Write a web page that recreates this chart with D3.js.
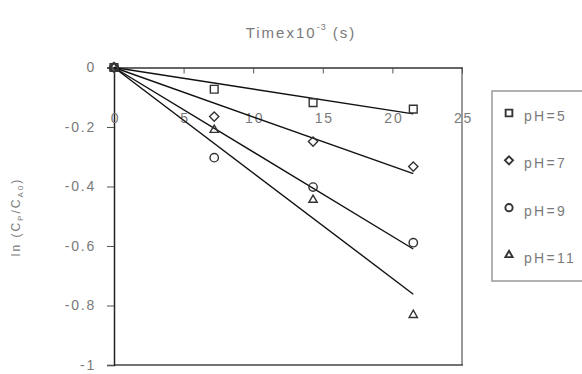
<!DOCTYPE html>
<html><head><meta charset="utf-8">
<script src="https://cdn.jsdelivr.net/npm/d3@7"></script>
<style>body{margin:0;background:#fff}svg{display:block}</style>
</head><body>
<svg id="c" width="582" height="374"></svg>
<script>
const times = [0, 7.2, 14.3, 21.5];
const seriesNames = ["pH=5", "pH=7", "pH=9", "pH=11"];
const pH5 = [0, -0.073, -0.118, -0.140];
const pH7 = [0, -0.165, -0.249, -0.333];
const pH9 = [0, -0.303, -0.402, -0.589];
const pH11 = [0, -0.21, -0.445, -0.832];
const fitX = [0, 21.5];
const fitEnd = [-0.156, -0.357, -0.61, -0.762];
const xTicks = [0, 5, 10, 15, 20, 25];
const yTicks = [0, -0.2, -0.4, -0.6, -0.8, -1];
const yTickLabels = ["0", "-0.2", "-0.4", "-0.6", "-0.8", "-1"];
const symbols = ["square", "diamond", "circle", "triangle"];

const svg = d3.select("#c");
const x = d3.scaleLinear().domain([0, 25]).range([114, 462]);
const y = d3.scaleLinear().domain([0, -1]).range([67.5, 365]);
const txt = "#7a7a7a";
const font = "Liberation Sans, Arial, sans-serif";

// frame
svg.append("line").attr("x1", x(25)).attr("x2", x(25)).attr("y1", y(0)).attr("y2", y(-1)).attr("stroke", "#999").attr("stroke-width", 2);
svg.append("line").attr("x1", x(0)).attr("x2", x(25)+1).attr("y1", y(-1)).attr("y2", y(-1)).attr("stroke", "#444").attr("stroke-width", 1.5);

// y axis
const ya = svg.append("g").attr("transform", `translate(${x(0)},0)`)
  .call(d3.axisLeft(y).tickValues(yTicks).tickSize(7).tickPadding(11).tickFormat((d, i) => yTickLabels[i]));
ya.select(".domain").attr("stroke", "#222").attr("stroke-width", 1.5);
ya.selectAll(".tick line").attr("stroke", "#555");
ya.selectAll("text").attr("fill", txt).attr("font-family", font).attr("font-size", 14).attr("letter-spacing", 1.8);

// x axis at top, ticks pointing down, labels far below
const xa = svg.append("g").attr("transform", `translate(0,${y(0)})`)
  .call(d3.axisBottom(x).tickValues(xTicks).tickSize(6).tickSizeOuter(0).tickPadding(40).tickFormat(d3.format("d")));
xa.select(".domain").attr("stroke", "#333").attr("stroke-width", 1.5);
xa.selectAll(".tick line").attr("stroke", "#555");
xa.selectAll("text").attr("fill", txt).attr("font-family", font).attr("font-size", 14).attr("letter-spacing", 1.8).attr("dx", 1);

// title
const t = svg.append("text").attr("x", 301).attr("y", 38).attr("text-anchor", "middle")
  .attr("fill", txt).attr("font-family", font).attr("font-size", 15).attr("letter-spacing", 2);
t.append("tspan").text("Timex10");
t.append("tspan").attr("dy", -8).attr("font-size", 9).attr("letter-spacing", 1).text("-3");
t.append("tspan").attr("dy", 8).text(" (s)");

// y label
const yl = svg.append("text").attr("transform", "translate(20,217) rotate(-90)").attr("text-anchor", "middle")
  .attr("fill", txt).attr("font-family", font).attr("font-size", 12).attr("letter-spacing", 2);
yl.append("tspan").text("ln (C");
yl.append("tspan").attr("dy", 3).attr("font-size", 8).text("P");
yl.append("tspan").attr("dy", -3).text("/C");
yl.append("tspan").attr("dy", 3).attr("font-size", 8).text("A0");
yl.append("tspan").attr("dy", -3).text(")");

// fit lines
const line = d3.line().x(d => x(d[0])).y(d => y(d[1]));
fitEnd.forEach(e => {
  svg.append("path").attr("d", line([[fitX[0], 0], [fitX[1], e]]))
    .attr("fill", "none").attr("stroke", "#111").attr("stroke-width", 1.4);
});

// markers
const symMap = {square: d3.symbolSquare, diamond: d3.symbolDiamond2 || d3.symbolDiamond, circle: d3.symbolCircle, triangle: d3.symbolTriangle2 || d3.symbolTriangle};
const sizes = {square: 60, diamond: 55, circle: 55, triangle: 50};
const allSeries = [pH5, pH7, pH9, pH11];
allSeries.forEach((vals, i) => {
  const s = d3.symbol().type(symMap[symbols[i]]).size(sizes[symbols[i]]);
  svg.append("g").selectAll("path").data(vals).join("path")
    .attr("transform", (d, j) => `translate(${x(times[j])},${y(d)})`)
    .attr("d", s).attr("fill", "none").attr("stroke", "#333").attr("stroke-width", 1.4);
});

// legend
svg.append("rect").attr("x", 492).attr("y", 91).attr("width", 120).attr("height", 190)
  .attr("fill", "none").attr("stroke", "#999").attr("stroke-width", 1.5);
const legY = d3.scalePoint().domain(seriesNames).range([113, 255]);
seriesNames.forEach((n, i) => {
  const s = d3.symbol().type(symMap[symbols[i]]).size(sizes[symbols[i]] * 0.75);
  svg.append("path").attr("transform", `translate(509,${legY(n)})`).attr("d", s)
    .attr("fill", "none").attr("stroke", "#333").attr("stroke-width", 1.9);
  svg.append("text").attr("x", 524).attr("y", legY(n) + 8).text(n)
    .attr("fill", txt).attr("font-family", font).attr("font-size", 14).attr("letter-spacing", 2.3);
});
</script>
</body></html>
